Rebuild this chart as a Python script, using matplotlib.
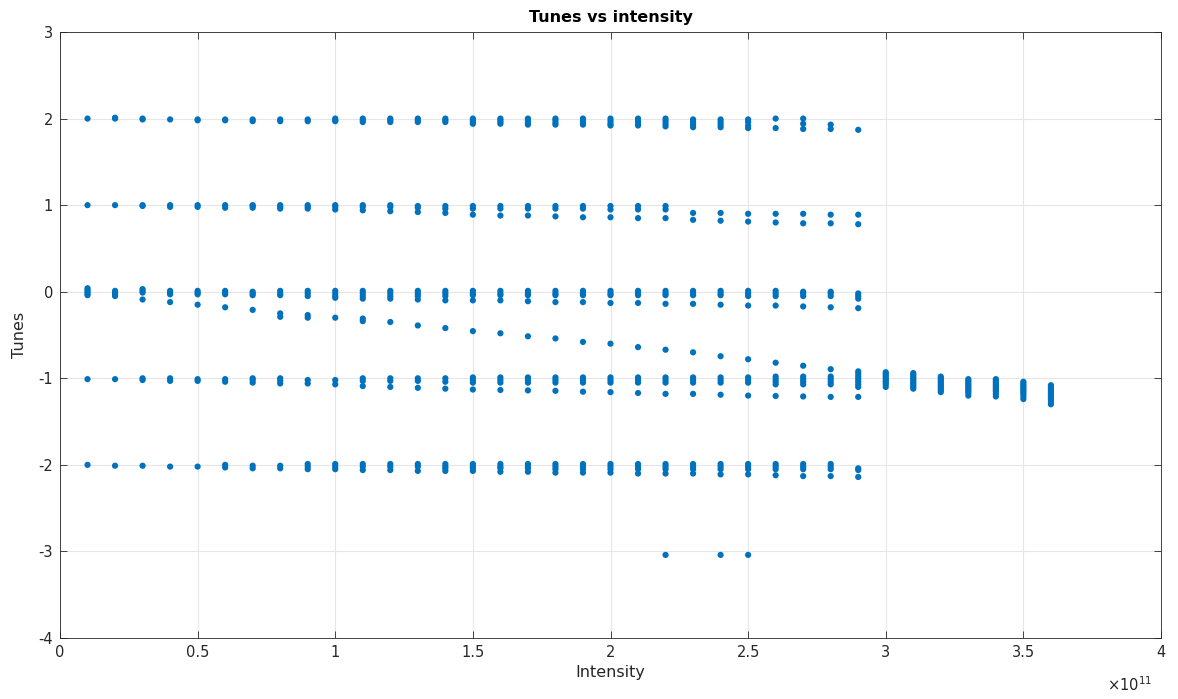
"""Tunes vs intensity scatter (MATLAB-like look)."""
import numpy as np
import matplotlib.pyplot as plt
import matplotlib as mpl
from matplotlib.ticker import FuncFormatter

mpl.rcParams['font.family'] = 'DejaVu Sans'

BLUE = '#0072BD'

# intensity columns, in units of 1e11
INTENSITY = [0.1, 0.2, 0.3, 0.4, 0.5, 0.6, 0.7, 0.8, 0.9, 1.0,
             1.1, 1.2, 1.3, 1.4, 1.5, 1.6, 1.7, 1.8, 1.9, 2.0,
             2.1, 2.2, 2.3, 2.4, 2.5, 2.6, 2.7, 2.8, 2.9]

# tunes near +2
BAND_P2 = [
    [2.00], [2.00, 2.01], [2.00, 1.99], [1.99], [1.99, 1.98],
    [1.99, 1.98], [1.99, 1.97], [1.99, 1.97], [1.99, 1.97], [2.00, 1.98, 1.97],
    [2.00, 1.98, 1.96], [2.00, 1.98, 1.96], [2.00, 1.98, 1.96], [2.00, 1.98, 1.96],
    [2.00, 1.98, 1.96, 1.94], [2.00, 1.98, 1.96, 1.94], [2.00, 1.98, 1.95, 1.93],
    [2.00, 1.98, 1.95, 1.93], [2.00, 1.97, 1.95, 1.93], [2.00, 1.97, 1.94, 1.92],
    [2.00, 1.97, 1.94, 1.92], [2.00, 1.97, 1.94, 1.91], [1.99, 1.96, 1.93, 1.90],
    [1.99, 1.96, 1.93, 1.90], [1.99, 1.96, 1.92, 1.89], [2.00, 1.89],
    [2.00, 1.94, 1.88], [1.93, 1.88], [1.87],
]

# tunes near +1
BAND_P1 = [
    [1.00], [1.00], [1.00, 0.99], [1.00, 0.98], [1.00, 0.98],
    [1.00, 0.97], [1.00, 0.99, 0.97], [1.00, 0.98, 0.96], [1.00, 0.98, 0.96],
    [1.00, 0.98, 0.95], [1.00, 0.98, 0.94], [1.00, 0.98, 0.93], [0.99, 0.97, 0.92],
    [0.99, 0.96, 0.91], [0.99, 0.96, 0.89], [0.99, 0.96, 0.88], [0.99, 0.96, 0.88],
    [0.99, 0.96, 0.87], [0.99, 0.96, 0.86], [0.99, 0.95, 0.86], [0.99, 0.95, 0.85],
    [0.99, 0.95, 0.85], [0.91, 0.83], [0.91, 0.82], [0.90, 0.81], [0.90, 0.80],
    [0.90, 0.79], [0.89, 0.79], [0.89, 0.78],
]

# tunes near 0
BAND_0 = [
    [0.04, 0.02, 0.00, -0.02, -0.04], [0.01, -0.01, -0.03, -0.05],
    [0.03, 0.01, -0.01], [0.01, -0.01, -0.03], [0.01, -0.01, -0.03],
    [0.01, -0.01, -0.03], [0.00, -0.02, -0.04], [0.01, -0.02, -0.04],
    [0.01, -0.02, -0.05], [0.01, -0.02, -0.05, -0.07], [0.01, -0.02, -0.05, -0.08],
    [0.01, -0.02, -0.05, -0.08], [0.01, -0.02, -0.05, -0.09],
    [0.01, -0.02, -0.05, -0.10], [0.01, -0.02, -0.04, -0.10],
    [0.01, -0.02, -0.04, -0.10], [0.01, -0.02, -0.04, -0.11],
    [0.01, -0.02, -0.04, -0.12], [0.01, -0.02, -0.04, -0.12],
    [0.01, -0.02, -0.04, -0.13], [0.01, -0.02, -0.04, -0.13],
    [0.01, -0.02, -0.04, -0.14], [0.01, -0.02, -0.04, -0.14],
    [0.01, -0.02, -0.04, -0.15], [0.01, -0.02, -0.05, -0.16],
    [0.01, -0.02, -0.05, -0.16], [0.00, -0.02, -0.05, -0.17],
    [0.00, -0.02, -0.05, -0.18], [-0.02, -0.05, -0.08, -0.19],
]

# mode shifting down from 0 towards -1
DRIFT = [
    [], [], [-0.09], [-0.12], [-0.15], [-0.18], [-0.21], [-0.25, -0.29],
    [-0.27, -0.30], [-0.30], [-0.31, -0.34], [-0.35], [-0.39], [-0.42],
    [-0.455], [-0.48], [-0.515], [-0.54], [-0.58], [-0.60], [-0.64],
    [-0.67], [-0.70], [-0.745], [-0.78], [-0.82], [-0.855], [-0.895], [],
]

# tunes near -1
BAND_M1 = [
    [-1.01], [-1.01], [-1.00, -1.02], [-1.00, -1.03], [-1.01, -1.03],
    [-1.01, -1.04], [-1.00, -1.02, -1.05], [-1.00, -1.03, -1.06],
    [-1.02, -1.06], [-1.02, -1.07], [-1.00, -1.03, -1.09], [-1.00, -1.03, -1.10],
    [-1.00, -1.03, -1.11], [-1.00, -1.04, -1.12], [-0.99, -1.02, -1.05, -1.13],
    [-0.99, -1.02, -1.05, -1.135], [-0.99, -1.02, -1.05, -1.14],
    [-0.99, -1.02, -1.05, -1.145], [-0.99, -1.02, -1.05, -1.155],
    [-0.99, -1.02, -1.05, -1.16], [-0.99, -1.02, -1.05, -1.17],
    [-0.99, -1.02, -1.05, -1.18], [-0.99, -1.02, -1.05, -1.18],
    [-0.99, -1.02, -1.05, -1.19], [-0.99, -1.02, -1.05, -1.20],
    [-0.98, -1.01, -1.04, -1.07, -1.205], [-0.98, -1.01, -1.04, -1.07, -1.21],
    [-0.98, -1.01, -1.04, -1.07, -1.215],
    [-0.92, -0.95, -0.98, -1.01, -1.04, -1.07, -1.10, -1.215],
]

# tunes near -2
BAND_M2 = [
    [-2.00], [-2.01], [-2.01], [-2.02], [-2.02], [-2.00, -2.03],
    [-2.01, -2.04], [-2.01, -2.04], [-1.99, -2.02, -2.05], [-1.99, -2.02, -2.05],
    [-1.99, -2.02, -2.06], [-1.99, -2.02, -2.06], [-1.99, -2.02, -2.07],
    [-1.99, -2.02, -2.04, -2.07], [-1.99, -2.02, -2.04, -2.07],
    [-1.99, -2.02, -2.04, -2.08], [-1.99, -2.02, -2.04, -2.08],
    [-1.99, -2.02, -2.05, -2.09], [-1.99, -2.02, -2.05, -2.09],
    [-1.99, -2.02, -2.05, -2.09], [-1.99, -2.02, -2.05, -2.10],
    [-1.99, -2.02, -2.05, -2.10], [-1.99, -2.02, -2.05, -2.10],
    [-1.99, -2.02, -2.05, -2.11], [-1.99, -2.02, -2.05, -2.11],
    [-1.99, -2.02, -2.05, -2.12], [-1.99, -2.02, -2.05, -2.13],
    [-1.99, -2.02, -2.05, -2.13], [-2.04, -2.06, -2.14],
]

# beyond 3e11 only the coupled -1 cluster remains
HIGH_INTENSITY = [3.0, 3.1, 3.2, 3.3, 3.4, 3.5, 3.6]
HIGH_TUNES = [
    [-0.93, -0.95, -0.97, -0.99, -1.01, -1.03, -1.05, -1.07, -1.10],
    [-0.94, -0.96, -0.98, -1.00, -1.02, -1.04, -1.06, -1.08, -1.10, -1.12],
    [-0.98, -1.00, -1.02, -1.04, -1.06, -1.08, -1.10, -1.12, -1.14, -1.16],
    [-1.01, -1.03, -1.05, -1.07, -1.09, -1.11, -1.13, -1.15, -1.17, -1.20],
    [-1.01, -1.03, -1.05, -1.07, -1.09, -1.11, -1.13, -1.15, -1.18, -1.21],
    [-1.04, -1.06, -1.08, -1.10, -1.12, -1.14, -1.16, -1.18, -1.21, -1.24],
    [-1.08, -1.10, -1.12, -1.14, -1.16, -1.18, -1.20, -1.22, -1.24, -1.27, -1.30],
]

# isolated points near -3
LOW_INTENSITY = [2.2, 2.4, 2.5]
LOW_TUNES = [-3.04, -3.04, -3.04]


def flatten(xs, groups):
    px, py = [], []
    for x, g in zip(xs, groups):
        px += [x] * len(g)
        py += list(g)
    return px, py


fig = plt.figure(figsize=(11.78, 6.99), dpi=100)
ax = fig.add_axes([60 / 1178, 61 / 699, 1101 / 1178, 606 / 699])

xs, ys = [], []
for band in (BAND_P2, BAND_P1, BAND_0, DRIFT, BAND_M1, BAND_M2):
    px, py = flatten(INTENSITY, band)
    xs += px; ys += py
px, py = flatten(HIGH_INTENSITY, HIGH_TUNES)
xs += px; ys += py
xs += LOW_INTENSITY; ys += LOW_TUNES

ax.scatter(xs, ys, s=20, color=BLUE, edgecolors='none', zorder=3)

ax.set_xlim(0, 4)
ax.set_ylim(-4, 3)
ax.set_xticks(np.arange(0, 4.01, 0.5))
ax.set_yticks(np.arange(-4, 3.01, 1))
ax.xaxis.set_major_formatter(FuncFormatter(lambda v, _: f'{v:g}'))
ax.yaxis.set_major_formatter(FuncFormatter(lambda v, _: f'{v:g}'))
ax.grid(True, color='#e6e6e6', linewidth=0.8)
ax.set_axisbelow(True)
ax.tick_params(direction='in', length=5, width=0.6, colors='#262626',
               labelsize=10.5, top=True, right=True, pad=5)
for s in ax.spines.values():
    s.set_color('#262626')
    s.set_linewidth(0.6)

ax.set_title('Tunes vs intensity', fontsize=11.5, fontweight='bold', pad=7)
ax.set_xlabel('Intensity', fontsize=11.5, color='#262626', labelpad=4)
ax.set_ylabel('Tunes', fontsize=11.5, color='#262626', labelpad=8)
ax.text(0.992, -0.062, r'$\times10^{11}$', transform=ax.transAxes,
        ha='right', va='top', fontsize=10.5, color='#262626')

fig.savefig('out.png', dpi=100)
